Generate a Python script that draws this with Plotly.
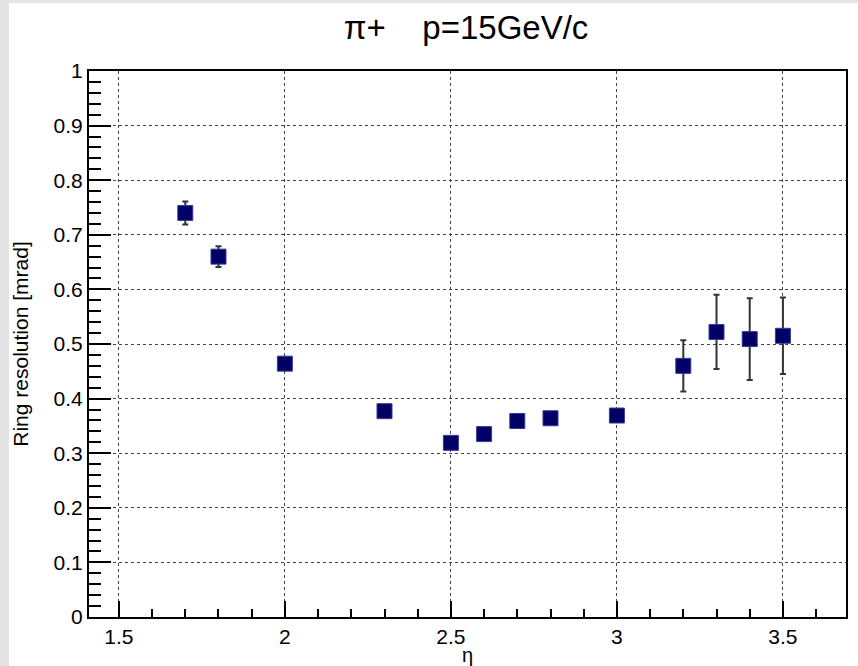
import plotly.graph_objects as go

eta = [1.7, 1.8, 2.0, 2.3, 2.5, 2.6, 2.7, 2.8, 3.0, 3.2, 3.3, 3.4, 3.5]
resolution = [0.740, 0.660, 0.464, 0.377, 0.319, 0.335, 0.359, 0.364, 0.369, 0.460, 0.522, 0.509, 0.515]
res_err = [0.021, 0.019, 0.008, 0.007, 0.006, 0.006, 0.006, 0.006, 0.007, 0.047, 0.068, 0.075, 0.070]

W, H = 858, 666
ml, mr, mt, mb = 89, 12, 71, 49
pw, ph = W - ml - mr, H - mt - mb

fig = go.Figure()
fig.add_trace(go.Scatter(
    x=eta, y=resolution, mode="markers",
    marker=dict(symbol="square", size=15, color="#000066", line=dict(color="#3a3a9a", width=1)),
    error_y=dict(type="data", array=res_err, visible=True, color="#333333", thickness=2, width=3),
    showlegend=False,
))

font = "Liberation Sans, Arial, sans-serif"

fig.update_layout(
    width=W, height=H,
    margin=dict(l=ml, r=mr, t=mt, b=mb, autoexpand=False),
    paper_bgcolor="#e4e4e4",
    plot_bgcolor="white",
    font=dict(family=font, color="black", size=20),
    title=dict(text="π+\u00a0\u00a0\u00a0\u00a0p=15GeV/c", x=466 / W, xanchor="center", y=1 - 27 / H, yanchor="middle",
               font=dict(size=33, family=font), automargin=False),
    shapes=[dict(type="rect", xref="paper", yref="paper", layer="below",
                 x0=(9 - ml) / pw, x1=1.5, y0=-1, y1=(H - mb - 3) / ph,
                 fillcolor="white", line=dict(width=0))],
    xaxis=dict(
        range=[1.41, 3.69], dtick=0.5, tick0=1.5, automargin=False,
        showgrid=True, gridcolor="#444444", griddash="dot", gridwidth=1,
        zeroline=False, showline=True, linecolor="black", linewidth=2, mirror=True,
        ticks="inside", ticklen=16, tickwidth=2, tickcolor="black",
        minor=dict(dtick=0.1, tick0=1.5, ticks="inside", ticklen=8, tickwidth=2, tickcolor="black", showgrid=False),
        tickfont=dict(size=21),
        title=dict(text="η", font=dict(size=20), standoff=0),
    ),
    yaxis=dict(
        range=[0, 1], dtick=0.1, tick0=0, automargin=False,
        showgrid=True, gridcolor="#444444", griddash="dot", gridwidth=1,
        zeroline=False, showline=True, linecolor="black", linewidth=2, mirror=True,
        ticks="inside", ticklen=22, tickwidth=2, tickcolor="black",
        minor=dict(dtick=0.02, tick0=0, ticks="inside", ticklen=12, tickwidth=2, tickcolor="black", showgrid=False),
        tickfont=dict(size=21),
        title=dict(text="Ring resolution [mrad]", font=dict(size=21), standoff=19),
    ),
)

fig.write_html("out.html")
